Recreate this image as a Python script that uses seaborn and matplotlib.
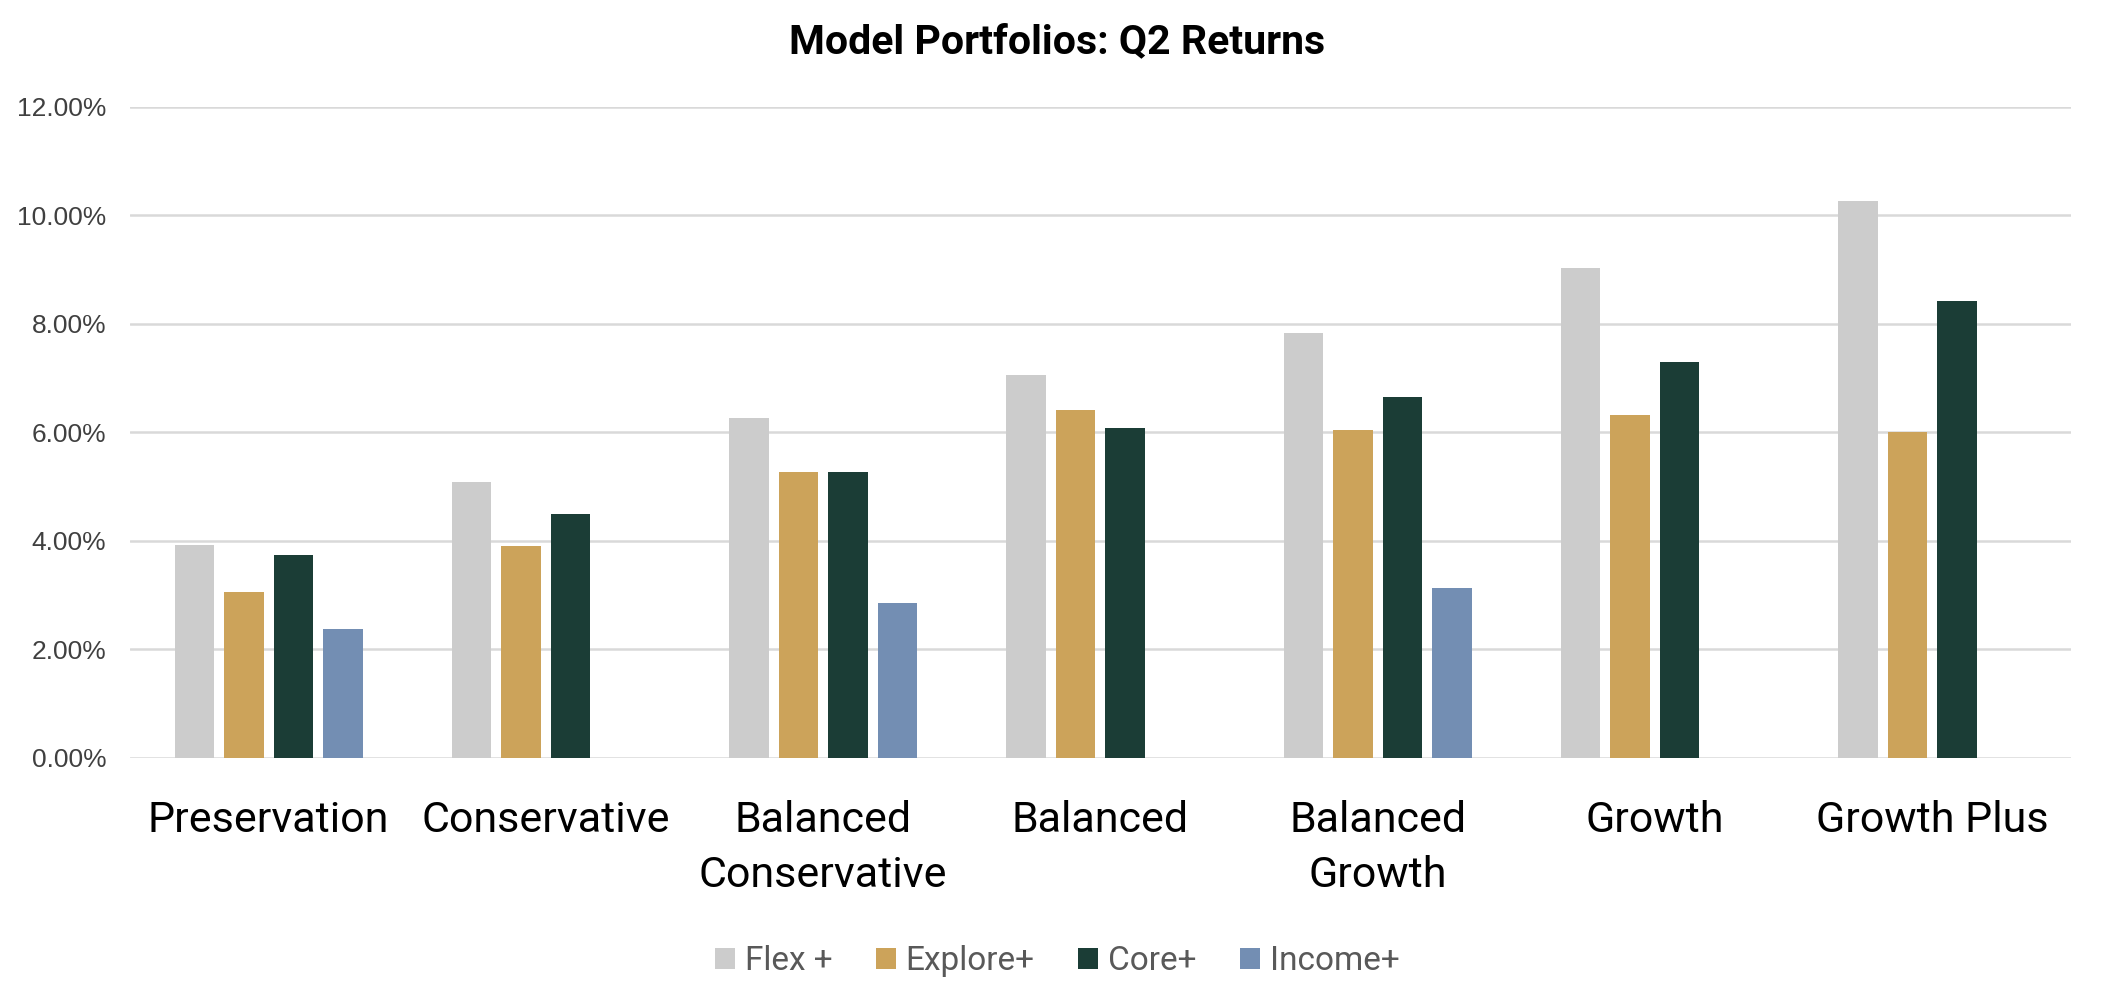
import matplotlib
matplotlib.use("Agg")
import matplotlib.pyplot as plt
from matplotlib.ticker import PercentFormatter
import numpy as np
import pandas as pd
import seaborn as sns

# data (Q2 returns, in %)
portfolios = ["Preservation", "Conservative", "Balanced\nConservative", "Balanced",
              "Balanced\nGrowth", "Growth", "Growth Plus"]
funds = ["Flex +", "Explore+", "Core+", "Income+"]
flex = [3.92, 5.09, 6.27, 7.06, 7.84, 9.04, 10.27]
explore = [3.06, 3.90, 5.27, 6.41, 6.05, 6.33, 6.00]
core = [3.74, 4.49, 5.27, 6.09, 6.66, 7.30, 8.43]
income = [2.37, np.nan, 2.85, np.nan, 3.14, np.nan, np.nan]
colors = ["#CCCCCC", "#CCA35A", "#1B3D36", "#738EB3"]

df = pd.DataFrame({"Flex +": flex, "Explore+": explore, "Core+": core, "Income+": income},
                  index=portfolios)
df = df.reset_index(names="Portfolio").melt(id_vars="Portfolio", var_name="Fund", value_name="Return")

sns.set_style("white")
plt.rcParams['font.family'] = ['Roboto', 'DejaVu Sans']

fig = plt.figure(figsize=(21.14, 9.96), dpi=100)
ax = fig.add_axes([0.0615, 0.239, 0.918, 0.6536])

sns.barplot(data=df, x="Portfolio", y="Return", hue="Fund", order=portfolios,
            hue_order=funds, palette=colors, saturation=1, width=0.714, gap=0.2,
            linewidth=0, ax=ax)

ax.set_ylim(0, 12)
ax.set_yticks(np.arange(0, 12.1, 2))
ax.yaxis.set_major_formatter(PercentFormatter(decimals=2))
ax.grid(axis='y', color='#D9D9D9', lw=1.8)
ax.set_axisbelow(True)
ax.set_xlabel("")
ax.set_ylabel("")
ax.tick_params(axis='x', labelsize=31, pad=30, length=0, labelcolor='black')
ax.tick_params(axis='y', length=0, pad=17, labelcolor='#404040')
for lbl in ax.get_xticklabels():
    lbl.set_linespacing(1.45)
for lbl in ax.get_yticklabels():
    lbl.set_fontfamily(['Liberation Sans', 'DejaVu Sans'])
    lbl.set_fontsize(19)
sns.despine(ax=ax, left=True, bottom=True)

fig.text(0.5, 0.958, "Model Portfolios: Q2 Returns", ha='center', va='center',
         fontsize=29.5, fontweight='bold', color='black')

ax.legend_.remove()
handles, labels = ax.get_legend_handles_labels()
fig.legend(handles, labels, loc='center', bbox_to_anchor=(0.5, 0.035), ncol=4,
           frameon=False, fontsize=24, labelcolor='#595959', handlelength=0.6,
           handleheight=0.6, handletextpad=0.3, columnspacing=1.3)

plt.savefig("out.png", dpi=100)
